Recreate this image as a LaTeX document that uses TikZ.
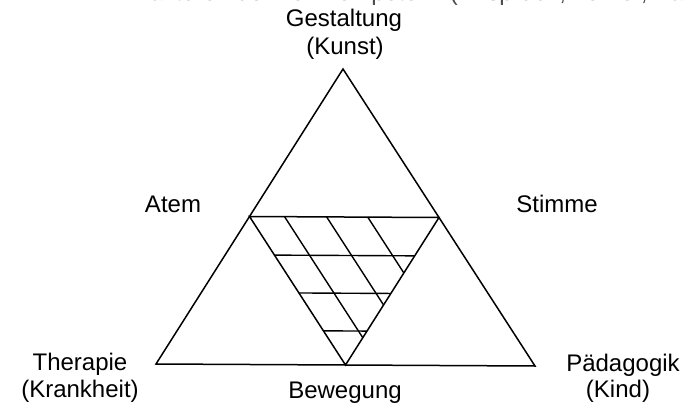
\documentclass[tikz,border=0pt]{standalone}
\usepackage{fontspec}
\setmainfont{Liberation Sans}
\usetikzlibrary{calc}
\begin{document}
\begin{tikzpicture}[x=1pt,y=-1pt,
  lbl/.style={inner sep=0pt, anchor=base, font=\fontsize{24}{28}\selectfont},
  tri/.style={draw=black, line width=1.5pt, line join=miter},
  hatch/.style={draw=black, line width=1.4pt}]
\useasboundingbox (0,0) rectangle (690,406);
\clip (0,0) rectangle (690,406);
% cut-off heading line
\node[lbl, anchor=base west, text=black!70] (head) at (135,1) {Faktoren der Lehrkompetenz (Anspruch, Lehrer, Partner)};
% outer triangle
\coordinate (A) at (343,69);
\coordinate (L) at (156,364);
\coordinate (R) at (535,366);
\draw[tri] (A) -- (L) -- (R) -- cycle;
% inner triangle
\coordinate (ML) at ($(A)!0.5!(L)$);
\coordinate (MR) at ($(A)!0.5!(R)$);
\coordinate (MB) at ($(L)!0.5!(R)$);
\draw[tri] (ML) -- (MR) -- (MB) -- cycle;
% horizontal hatching
\foreach \k/\n in {0.26/h1,0.515/h2,0.77/h3}{
  \coordinate (\n l) at ($(ML)!\k!(MB)$);
  \coordinate (\n r) at ($(MR)!\k!(MB)$);
  \draw[hatch] (\n l) -- (\n r);
}
% diagonal hatching
\foreach \f/\n in {0.185/d1,0.407/d2,0.624/d3}{
  \coordinate (\n s) at ($(ML)!\f!(MR)$);
  \coordinate (\n e) at ($(MB)!\f!(MR)$);
  \draw[hatch] (\n s) -- (\n e);
}
% labels
\node[lbl] (gest) at (344,27) {Gestaltung};
\node[lbl] (kunst) at (345,55) {(Kunst)};
\node[lbl] (atem) at (173,212) {Atem};
\node[lbl] (stimme) at (557,212) {Stimme};
\node[lbl] (ther) at (80,370) {Therapie};
\node[lbl] (krank) at (80,397) {(Krankheit)};
\node[lbl] (paed) at (623,371) {Pädagogik};
\node[lbl] (kind) at (618,397) {(Kind)};
\node[lbl] (bew) at (345,398) {Bewegung};
\end{tikzpicture}
\end{document}
